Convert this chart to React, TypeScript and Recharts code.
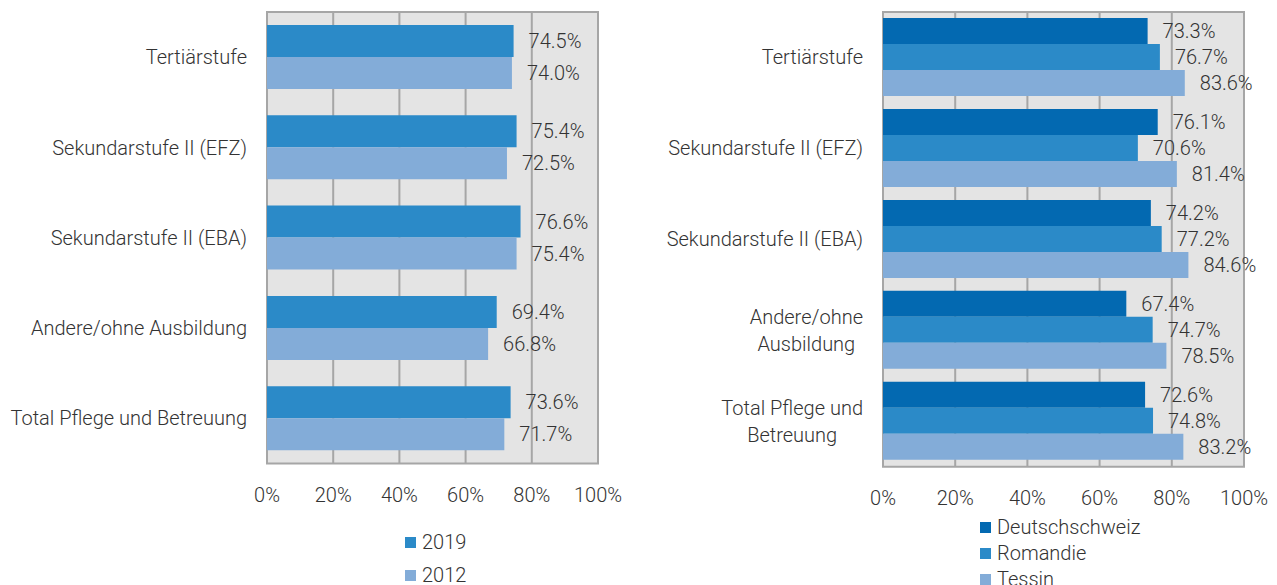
import React from "react";
import {
  BarChart,
  Bar,
  XAxis,
  YAxis,
  CartesianGrid,
  ReferenceArea,
  LabelList,
} from "recharts";

// ---------- data ----------
const leftCategories = [
  "Tertiärstufe",
  "Sekundarstufe II (EFZ)",
  "Sekundarstufe II (EBA)",
  "Andere/ohne Ausbildung",
  "Total Pflege und Betreuung",
];
const values2019 = [74.5, 75.4, 76.6, 69.4, 73.6];
const values2012 = [74.0, 72.5, 75.4, 66.8, 71.7];

const rightCategories = [
  "Tertiärstufe",
  "Sekundarstufe II (EFZ)",
  "Sekundarstufe II (EBA)",
  "Andere/ohne\nAusbildung",
  "Total Pflege und\nBetreuung",
];
const deutschschweiz = [73.3, 76.1, 74.2, 67.4, 72.6];
const romandie = [76.7, 70.6, 77.2, 74.7, 74.8];
const tessin = [83.6, 81.4, 84.6, 78.5, 83.2];

const xTicks = [0, 20, 40, 60, 80, 100];

// ---------- style ----------
const FONT = "Roboto, 'Noto Sans', sans-serif";
const TEXT = "#333333";
const C_DARK = "#0369b1";
const C_MID = "#2b8ac8";
const C_LIGHT = "#83acd8";
const GRID = "#a6a6a6";
const BG = "#e4e4e4";
const FS = 20;
const FW = 300;

const leftData = leftCategories.map((c, i) => ({
  cat: c,
  y2019: values2019[i],
  y2012: values2012[i],
}));
const rightData = rightCategories.map((c, i) => ({
  cat: c,
  de: deutschschweiz[i],
  ro: romandie[i],
  ti: tessin[i],
}));

const fmt = (v: any) => `${Number(v).toFixed(1)}%`;

let measureCtx: CanvasRenderingContext2D | null = null;
function measure(t: string): number {
  if (!measureCtx) {
    const c = document.createElement("canvas");
    measureCtx = c.getContext("2d");
  }
  if (!measureCtx) return t.length * FS * 0.5;
  measureCtx.font = `${FW} ${FS}px Roboto`;
  return measureCtx.measureText(t).width;
}

const WrapTick = (props: any) => {
  const { x, y, payload } = props;
  const lines: string[] = String(payload.value).split("\n");
  if (lines.length === 1) {
    return (
      <text
        x={x}
        y={y}
        dy="0.35em"
        textAnchor="end"
        fill={TEXT}
        fontSize={FS}
        fontFamily={FONT}
        fontWeight={FW}
      >
        {lines[0]}
      </text>
    );
  }
  const w = Math.max(...lines.map(measure));
  const cx = x - w / 2;
  const lh = 27;
  const start = y - ((lines.length - 1) * lh) / 2;
  return (
    <g>
      {lines.map((l, i) => (
        <text
          key={i}
          x={cx}
          y={start + i * lh}
          dy="0.35em"
          textAnchor="middle"
          fill={TEXT}
          fontSize={FS}
          fontFamily={FONT}
          fontWeight={FW}
        >
          {l}
        </text>
      ))}
    </g>
  );
};

const tickStyle = {
  fill: TEXT,
  fontSize: FS,
  fontFamily: FONT,
  fontWeight: FW,
};
const labelStyle = {
  fill: TEXT,
  fontSize: FS,
  fontFamily: FONT,
  fontWeight: FW,
};

const LegendItem = ({ color, label }: { color: string; label: string }) => (
  <div style={{ display: "flex", alignItems: "center", height: 20 }}>
    <div
      style={{ width: 11, height: 11, background: color, marginRight: 6 }}
    />
    <span
      style={{
        fontFamily: FONT,
        fontSize: FS,
        fontWeight: FW,
        color: TEXT,
        lineHeight: "20px",
      }}
    >
      {label}
    </span>
  </div>
);

export default function App() {
  return (
    <div
      style={{
        position: "absolute",
        left: 0,
        top: 0,
        width: 1277,
        height: 585,
        overflow: "hidden",
        background: "#fff",
        fontFamily: FONT,
      }}
    >
      {/* Left chart */}
      <div style={{ position: "absolute", left: 0, top: 0 }}>
        <BarChart
          width={640}
          height={585}
          data={leftData}
          layout="vertical"
          margin={{ top: 12, right: 42, left: 0, bottom: 91.5 }}
          barGap={0}
        >
          <CartesianGrid
            horizontal={false}
            vertical={true}
            stroke={GRID}
            strokeWidth={2}
            fill={BG}
            fillOpacity={1}
          />
          <ReferenceArea
            x1={0}
            x2={100}
            fill="none"
            fillOpacity={0}
            stroke={GRID}
            strokeWidth={2}
            ifOverflow="visible"
          />
          <XAxis
            type="number"
            domain={[0, 100]}
            ticks={xTicks}
            tickFormatter={(v) => `${v}%`}
            axisLine={false}
            tickLine={false}
            tickSize={0}
            tickMargin={24}
            height={30}
            tick={tickStyle}
            interval={0}
          />
          <YAxis
            type="category"
            dataKey="cat"
            width={267}
            axisLine={false}
            tickLine={false}
            tickSize={0}
            tickMargin={20}
            tick={tickStyle}
            interval={0}
          />
          <Bar dataKey="y2019" fill={C_MID} barSize={32} isAnimationActive={false}>
            <LabelList
              dataKey="y2019"
              position="right"
              offset={15}
              formatter={fmt}
              style={labelStyle}
            />
          </Bar>
          <Bar dataKey="y2012" fill={C_LIGHT} barSize={32} isAnimationActive={false}>
            <LabelList
              dataKey="y2012"
              position="right"
              offset={15}
              formatter={fmt}
              style={labelStyle}
            />
          </Bar>
        </BarChart>
      </div>

      {/* Left legend */}
      <div style={{ position: "absolute", left: 405, top: 532 }}>
        <LegendItem color={C_MID} label="2019" />
        <div style={{ height: 13 }} />
        <LegendItem color={C_LIGHT} label="2012" />
      </div>

      {/* Right chart */}
      <div style={{ position: "absolute", left: 640, top: 0 }}>
        <BarChart
          width={637}
          height={585}
          data={rightData}
          layout="vertical"
          margin={{ top: 12, right: 33, left: 0, bottom: 88.3 }}
          barGap={0}
        >
          <CartesianGrid
            horizontal={false}
            vertical={true}
            stroke={GRID}
            strokeWidth={2}
            fill={BG}
            fillOpacity={1}
          />
          <ReferenceArea
            x1={0}
            x2={100}
            fill="none"
            fillOpacity={0}
            stroke={GRID}
            strokeWidth={2}
            ifOverflow="visible"
          />
          <XAxis
            type="number"
            domain={[0, 100]}
            ticks={xTicks}
            tickFormatter={(v) => `${v}%`}
            axisLine={false}
            tickLine={false}
            tickSize={0}
            tickMargin={24}
            height={30}
            tick={tickStyle}
            interval={0}
          />
          <YAxis
            type="category"
            dataKey="cat"
            width={243}
            axisLine={false}
            tickLine={false}
            tickSize={0}
            tickMargin={20}
            tick={<WrapTick />}
            interval={0}
          />
          <Bar dataKey="de" fill={C_DARK} barSize={26} isAnimationActive={false}>
            <LabelList dataKey="de" position="right" offset={15} formatter={fmt} style={labelStyle} />
          </Bar>
          <Bar dataKey="ro" fill={C_MID} barSize={26} isAnimationActive={false}>
            <LabelList dataKey="ro" position="right" offset={15} formatter={fmt} style={labelStyle} />
          </Bar>
          <Bar dataKey="ti" fill={C_LIGHT} barSize={26} isAnimationActive={false}>
            <LabelList dataKey="ti" position="right" offset={15} formatter={fmt} style={labelStyle} />
          </Bar>
        </BarChart>
      </div>

      {/* Right legend */}
      <div style={{ position: "absolute", left: 980, top: 517 }}>
        <LegendItem color={C_DARK} label="Deutschschweiz" />
        <div style={{ height: 6 }} />
        <LegendItem color={C_MID} label="Romandie" />
        <div style={{ height: 6 }} />
        <LegendItem color={C_LIGHT} label="Tessin" />
      </div>
    </div>
  );
}
